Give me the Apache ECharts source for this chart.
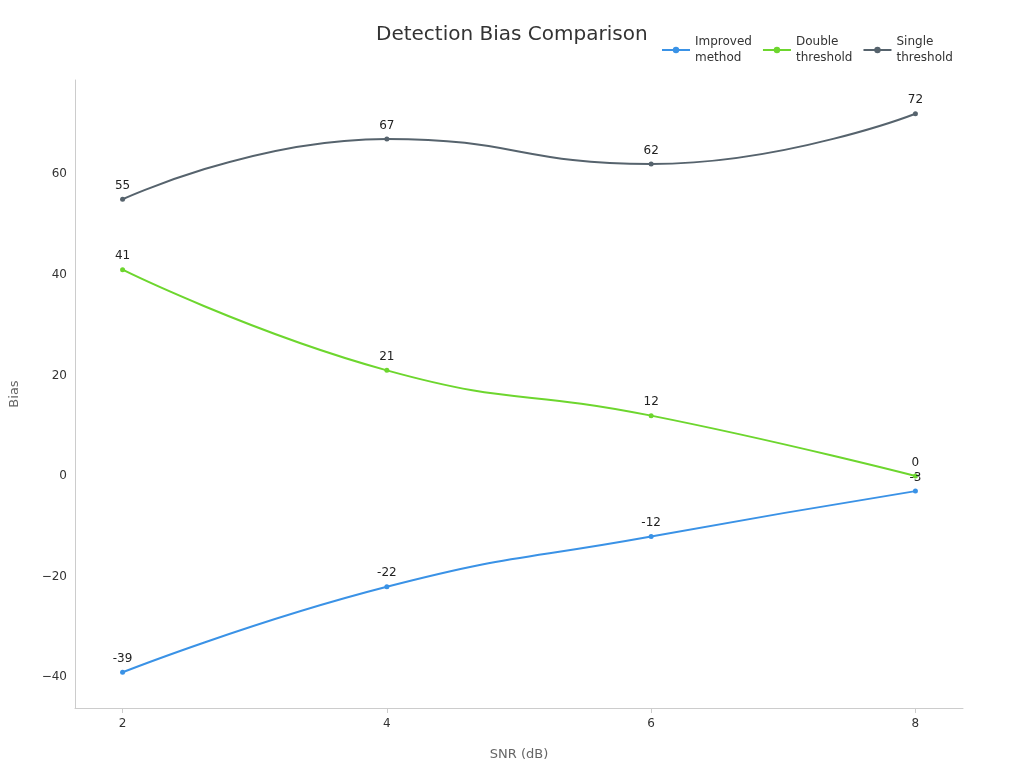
<!DOCTYPE html>
<html><head><meta charset="utf-8">
<script src="https://cdn.jsdelivr.net/npm/echarts@6/dist/echarts.min.js"></script>
<style>html,body{margin:0;padding:0;background:#fff}#c{width:1024px;height:768px}</style>
</head><body><div id="c"></div>
<script>
const snr = [2, 4, 6, 8];
const improved = [-39, -22, -12, -3];
const doubleTh = [41, 21, 12, 0];
const singleTh = [55, 67, 62, 72];
const names = ['Improved\nmethod', 'Double\nthreshold', 'Single\nthreshold'];
const colors = ['#3a92e6', '#6dd62e', '#56636d'];
const yTicks = [-40, -20, 0, 20, 40, 60];

const pairs = a => snr.map((x, i) => [x, a[i]]);
const mk = (name, data, color, pos) => ({
  name, type: 'line', smooth: true, data: pairs(data),
  symbol: 'circle', symbolSize: 5,
  lineStyle: { width: 2, color }, itemStyle: { color },
  label: { show: true, position: pos, color: '#222', fontSize: 12, fontFamily: 'DejaVu Sans' }
});
const chart = echarts.init(document.getElementById('c'));
chart.setOption({
  animation: false,
  textStyle: { fontFamily: 'DejaVu Sans' },
  title: { text: 'Detection Bias Comparison', left: 371, top: 20,
    textStyle: { fontSize: 20, fontWeight: 'normal', color: '#333', fontFamily: 'DejaVu Sans' } },
  legend: { top: 29, left: 656, itemWidth: 28, itemHeight: 8, itemGap: 10,
    textStyle: { fontSize: 12, color: '#333', lineHeight: 16 } },
  grid: { left: 65, right: 61, top: 80, bottom: 60, containLabel: false },
  xAxis: { type: 'value', min: 1.64, max: 8.36, name: 'SNR (dB)', nameLocation: 'middle', nameGap: 40,
    nameTextStyle: { color: '#666', fontSize: 13 },
    axisLine: { onZero: false, lineStyle: { color: '#ccc' } },
    axisTick: { show: true, customValues: snr, lineStyle: { color: '#ccc' } },
    axisLabel: { customValues: snr, color: '#333', fontSize: 12, margin: 10 },
    splitLine: { show: false } },
  yAxis: { type: 'value', min: -46.1, max: 78.7, name: 'Bias', nameLocation: 'middle', nameGap: 54,
    nameTextStyle: { color: '#666', fontSize: 13 },
    axisLine: { show: true, lineStyle: { color: '#ccc' } },
    axisTick: { show: false, customValues: yTicks },
    axisLabel: { customValues: yTicks, color: '#333', fontSize: 12,
      formatter: v => String(v).replace('-', '\u2212') },
    splitLine: { show: false } },
  series: [
    mk(names[0], improved, colors[0], 'top'),
    mk(names[1], doubleTh, colors[1], 'top'),
    mk(names[2], singleTh, colors[2], 'top')
  ]
});
</script></body></html>
